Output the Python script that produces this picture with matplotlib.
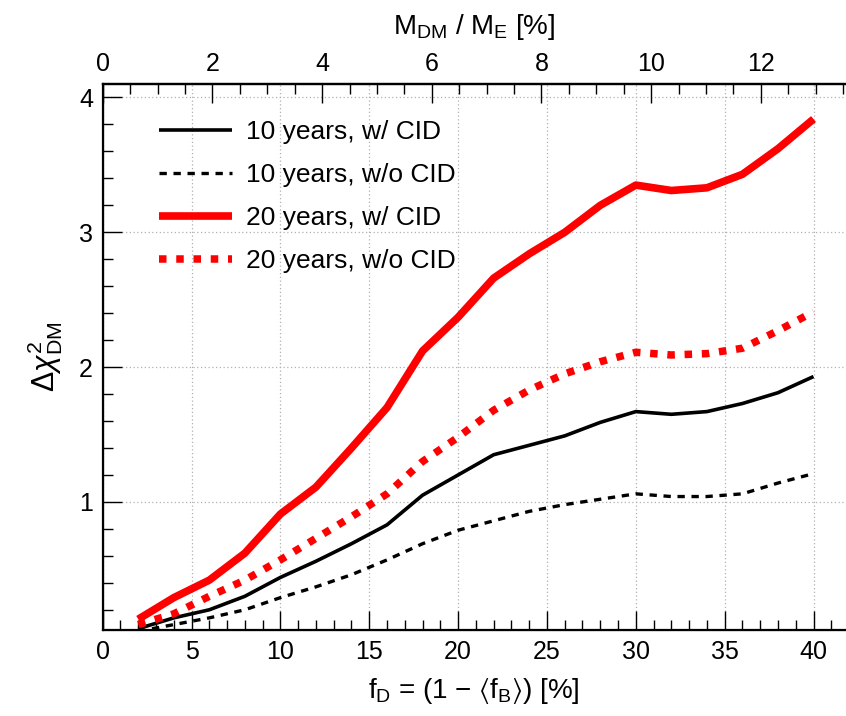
import matplotlib
matplotlib.use("Agg")
import matplotlib.pyplot as plt
from matplotlib.ticker import MultipleLocator

plt.rcParams['font.family'] = ['Liberation Sans', 'DejaVu Sans']
plt.rcParams['mathtext.fontset'] = 'custom'
plt.rcParams['mathtext.rm'] = 'Liberation Sans'
plt.rcParams['mathtext.it'] = 'Liberation Sans:italic'
plt.rcParams['mathtext.bf'] = 'Liberation Sans:bold'
plt.rcParams['mathtext.fallback'] = 'stixsans'

# data
f_D = [2, 4, 6, 8, 10, 12, 14, 16, 18, 20, 22, 24, 26, 28, 30, 32, 34, 36, 38, 40]
y10_cid = [0.06, 0.14, 0.20, 0.30, 0.44, 0.56, 0.69, 0.83, 1.05, 1.20, 1.35, 1.42, 1.49, 1.59,
           1.67, 1.65, 1.67, 1.73, 1.81, 1.93]
y10_nocid = [0.04, 0.09, 0.14, 0.20, 0.29, 0.37, 0.46, 0.57, 0.69, 0.79, 0.86, 0.93, 0.98, 1.02,
             1.06, 1.04, 1.04, 1.06, 1.14, 1.21]
y20_cid = [0.13, 0.29, 0.42, 0.62, 0.91, 1.11, 1.40, 1.70, 2.12, 2.37, 2.66, 2.84, 3.00, 3.20,
           3.35, 3.31, 3.33, 3.43, 3.62, 3.84]
y20_nocid = [0.09, 0.17, 0.30, 0.42, 0.57, 0.73, 0.89, 1.06, 1.30, 1.48, 1.68, 1.83, 1.95, 2.04,
             2.11, 2.09, 2.10, 2.14, 2.27, 2.41]
labels = ['10 years, w/ CID', '10 years, w/o CID', '20 years, w/ CID', '20 years, w/o CID']
top_scale = 0.324  # M_DM/M_E per unit of f_D

fig = plt.figure(figsize=(8.46, 7.16), dpi=100)
ax = fig.add_axes([102.7 / 846, (716 - 630) / 716, (845.5 - 102.7) / 846, (630 - 84) / 716])

red = '#ff0000'
ax.plot(f_D, y10_cid, color='black', lw=2.6, solid_capstyle='butt', label=labels[0])
ax.plot(f_D, y10_nocid, color='black', lw=2.4, dashes=(2.2, 2.0), dash_capstyle='butt', label=labels[1])
ax.plot(f_D, y20_cid, color=red, lw=5.5, solid_capstyle='butt', label=labels[2])
ax.plot(f_D, y20_nocid, color=red, lw=5.4, dashes=(1.0, 1.3), dash_capstyle='butt', label=labels[3])

ax.set_xlim(0, 41.8)
ax.set_ylim(0.05, 4.1)
ax.xaxis.set_major_locator(MultipleLocator(5))
ax.xaxis.set_minor_locator(MultipleLocator(1))
ax.yaxis.set_major_locator(MultipleLocator(1))
ax.yaxis.set_minor_locator(MultipleLocator(0.2))
ax.grid(True, which='major', color='#b0b0b0', ls=(0, (1, 2)), lw=0.9)
ax.tick_params(which='major', direction='in', length=14, width=1.0, labelsize=18, pad=7,
               top=False, right=False)
ax.tick_params(which='minor', direction='in', length=7, width=1.0, top=False, right=False)
for s in ['left', 'bottom', 'top']:
    ax.spines[s].set_linewidth(1.6)
ax.spines['right'].set_visible(False)

ax.set_xlabel(r'f$_{\rm D}$ = (1 $-$ $\langle$f$_{\rm B}$$\rangle$) [%]', fontsize=20, labelpad=9)
ax.set_ylabel(r'$\Delta\chi^2_{\rm DM}$', fontsize=22, labelpad=10)

top = ax.twiny()
top.set_xlim(0, 41.8 * top_scale)
top.xaxis.set_major_locator(MultipleLocator(2))
top.xaxis.set_minor_locator(MultipleLocator(0.5))
top.tick_params(which='major', direction='in', length=14, width=1.0, labelsize=18, pad=6)
top.tick_params(which='minor', direction='in', length=7, width=1.0)
top.spines['right'].set_visible(False)
top.spines['top'].set_linewidth(1.6)
top.set_xlabel(r'M$_{\rm DM}$ / M$_{\rm E}$ [%]', fontsize=20, labelpad=13)

leg = ax.legend(loc='upper left', bbox_to_anchor=(138 / 846, 1 - 99 / 716),
                bbox_transform=fig.transFigure, frameon=False, fontsize=19,
                handlelength=2.75, handletextpad=0.55, labelspacing=0.72, borderpad=0.3)

fig.savefig('out.png', dpi=100)
